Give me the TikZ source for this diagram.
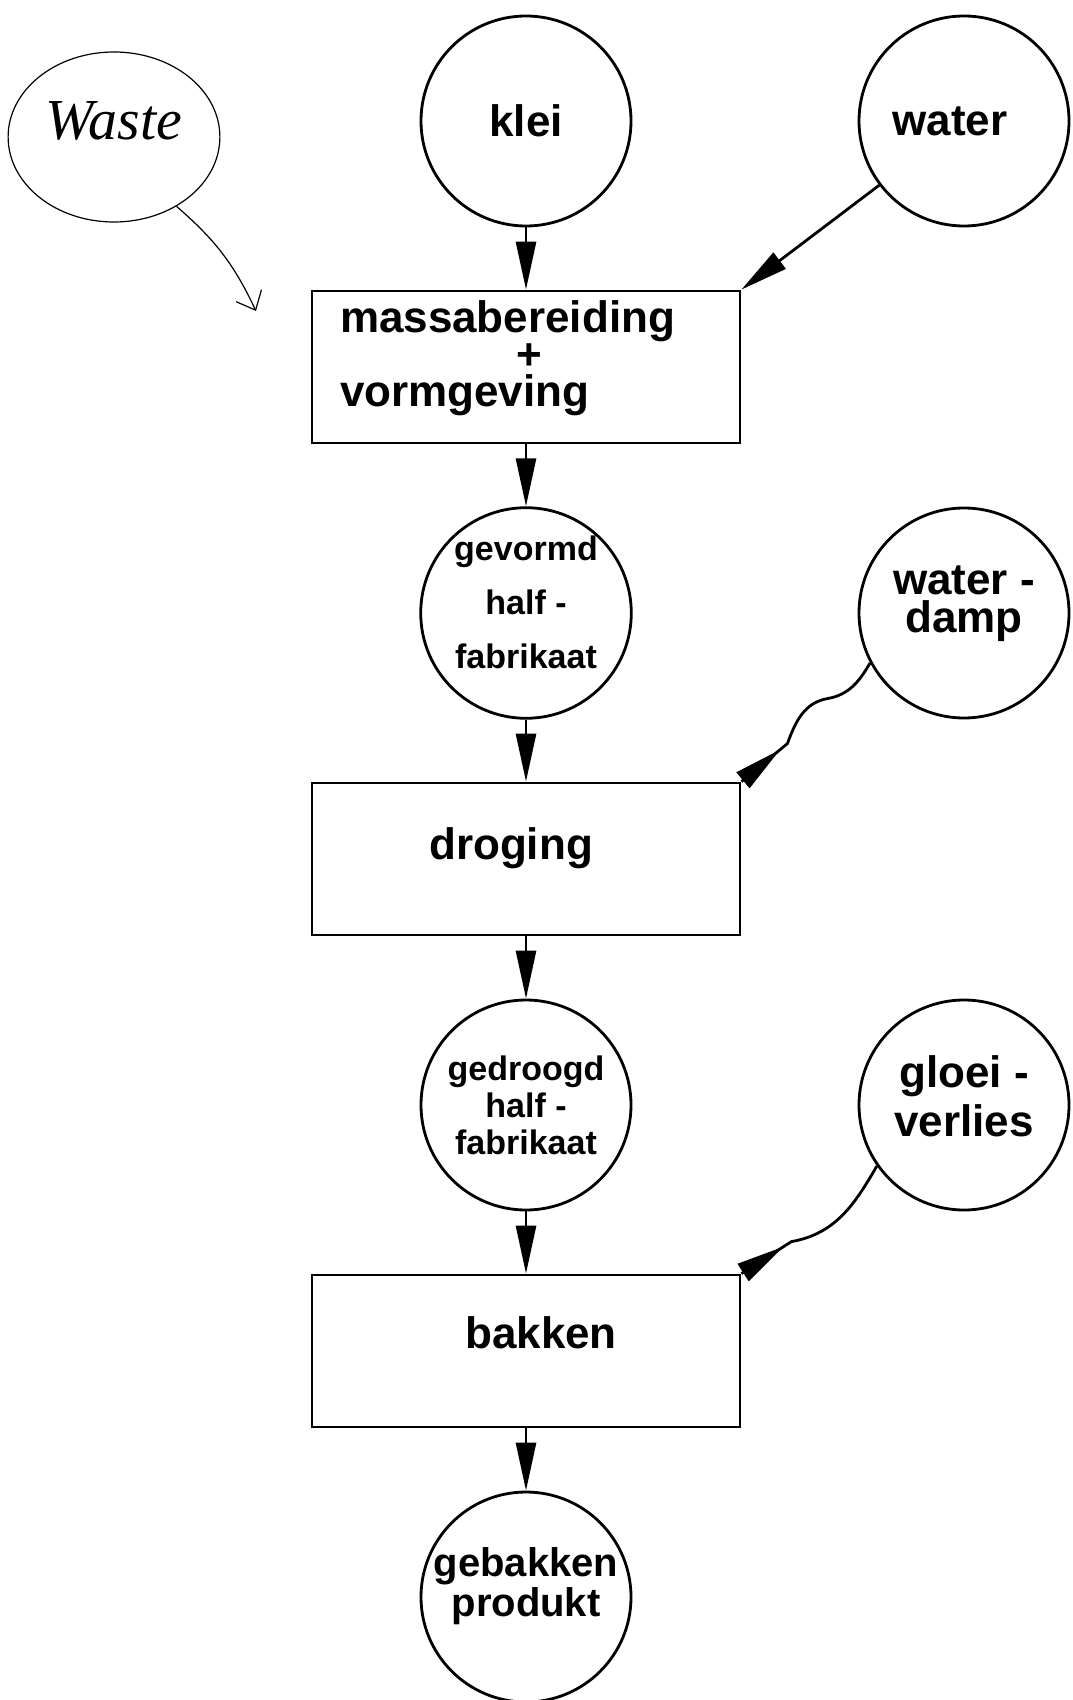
\documentclass[tikz,border=0pt]{standalone}
\usepackage{fontspec}
\setmainfont{Liberation Sans}
\newfontfamily\handfont{Liberation Serif}
\usetikzlibrary{arrows.meta,shapes.geometric,decorations.markings,positioning}

\begin{document}
\begin{tikzpicture}[
            x = 0.5pt,
            y = -0.5pt,
            block/.style = {
                rectangle,
                draw,
                line width = 1.4pt,
                minimum width = 214pt,
                minimum height = 76pt,
                font = \bfseries\fontsize{22}{18.5}\selectfont},
            store/.style = {
                circle,
                draw,
                line width = 1.4pt,
                minimum size = 105pt,
                inner sep = 0pt,
                align = center,
                font = \bfseries\fontsize{22}{19}\selectfont},
            arrow/.style = {
                draw,
                line width = 1.4pt,
                -{Triangle[length=24pt, width=10pt]}},
            wave/.style = {
                draw,
                line width = 1.4pt,
                postaction = {decorate},
                decoration = {markings,
                    mark = at position 25pt with {\arrow{Triangle[length=24pt, width=10pt]}}}},
            node distance = 123pt]
        \useasboundingbox (0,0) rectangle (1072,1700);
        % Place nodes
        \node [store] (klei) at (526,121) {klei};
        \node [store, node distance=219pt, right of=klei] (water) {water\hspace*{14pt}};
        \node [block, below of=klei, align=left, text width=186pt, inner xsep=14pt, text depth=50pt] (massa) {massabereiding\\\hspace*{4em}+\\vormgeving};
        \node [store, below of=massa, text depth=11pt, font=\bfseries\fontsize{17}{27}\selectfont] (gevormd) {gevormd\\half -\\fabrikaat};
        \node [store, node distance=219pt, right of=gevormd, text depth=13.5pt] (damp) {water -\\damp};
        \node [block, below of=gevormd, text depth=15.5pt] (droging) {droging\hspace*{15pt}};
        \node [store, below of=droging, font=\bfseries\fontsize{17}{18.5}\selectfont] (gedroogd) {gedroogd\\half -\\fabrikaat};
        \node [store, node distance=219pt, right of=gedroogd, text depth=9pt, font=\bfseries\fontsize{22}{24.5}\selectfont] (gloei) {gloei -\\verlies};
        \node [block, below of=gedroogd, text depth=18pt] (bakken) {\hspace*{15pt}bakken};
        \node [store, below of=bakken, text depth=15pt, font=\bfseries\fontsize{20}{15.5}\selectfont] (gebakken) {gebakken\\produkt};
        % handwritten note
        \node [ellipse, draw, line width=0.6pt, minimum width=103pt, minimum height=85pt, text depth=16pt,
               font=\handfont\itshape\fontsize{29}{29}\selectfont] (waste) at (114,137) {Waste};
        \coordinate (wastetip) at (256,311);

        % Draw edges
        \path [arrow] (klei) -- (massa);
        \path [arrow] (water) -- (massa.north east);
        \path [arrow] (massa) -- (gevormd);
        \path [arrow] (gevormd) -- (droging);
        \path [arrow] (droging) -- (gedroogd);
        \path [arrow] (gedroogd) -- (bakken);
        \path [arrow] (bakken) -- (gebakken);
        \path [wave] (droging.north east) -- ++(46,-38) to[out=70, in=190] ++(40,-45) to[out=10, in=240] (damp.208);
        \path [wave] (bakken.north east) -- ++(50,-32) to[out=10, in=240] (gloei.215);
        \path [draw, line width=0.6pt, -{Straight Barb[length=8pt, width=14pt]}] (waste.-48) to[bend left=12] (wastetip);
    \end{tikzpicture}
\end{document}
